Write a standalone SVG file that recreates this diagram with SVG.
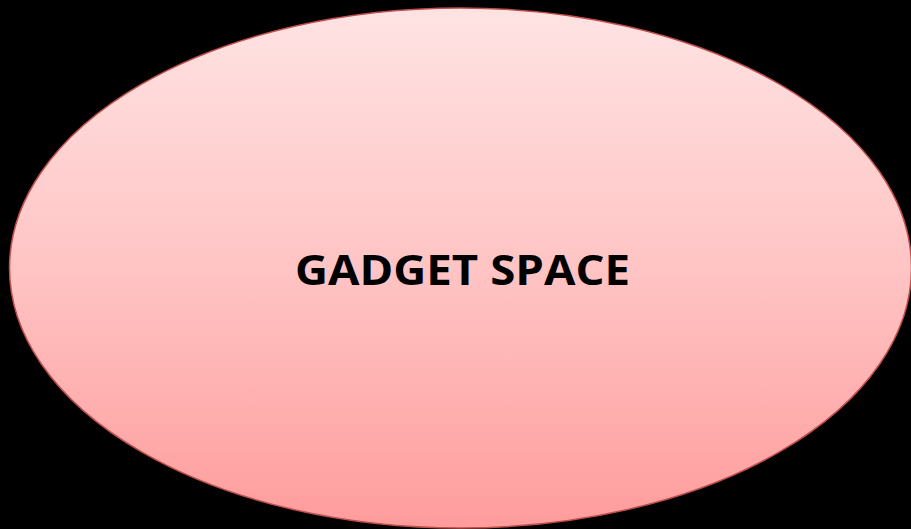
<svg xmlns="http://www.w3.org/2000/svg" width="911" height="529" viewBox="0 0 911 529">
  <defs>
    <linearGradient id="fill" x1="0" y1="0" x2="0" y2="1">
      <stop offset="0" stop-color="#FFE3E3"/>
      <stop offset="0.5" stop-color="#FFC4C4"/>
      <stop offset="1" stop-color="#FF9C9C"/>
    </linearGradient>
    <style>
      .shape { fill: url(#fill); stroke: #C0504D; stroke-width: 1.5; }
      .label { font-family: "Open Sans", "Liberation Sans", sans-serif; font-weight: bold; font-size: 42px; fill: #000; }
    </style>
  </defs>
  <rect width="911" height="529" fill="#000"/>
  <g id="gadget-space">
    <ellipse class="shape" cx="460.5" cy="268" rx="451" ry="260"/>
    <text class="label" x="462.5" y="285" text-anchor="middle" textLength="335" lengthAdjust="spacingAndGlyphs">GADGET SPACE</text>
  </g>
  <g id="connectors"/>
</svg>
